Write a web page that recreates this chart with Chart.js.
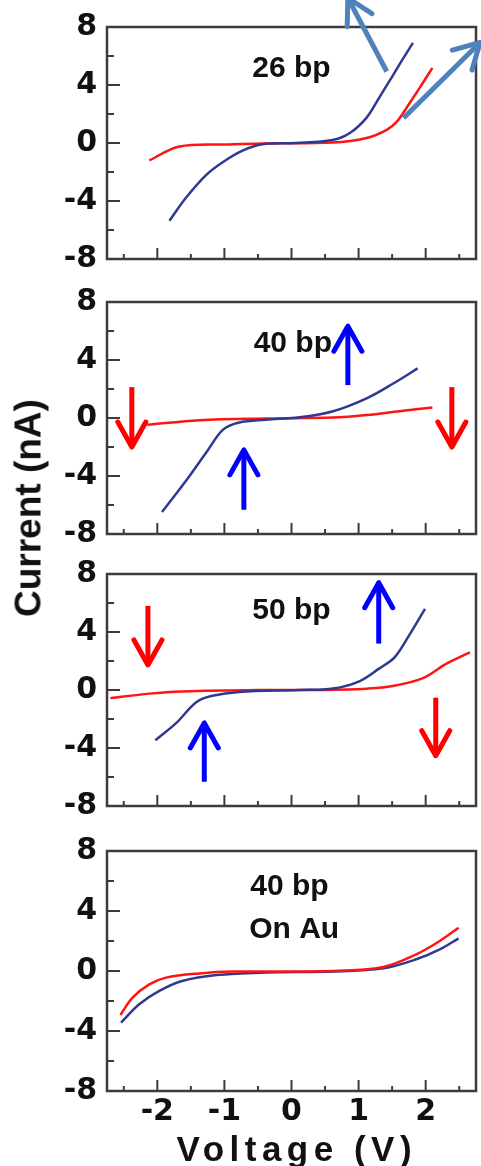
<!DOCTYPE html>
<html>
<head>
<meta charset="utf-8">
<script src="https://cdn.jsdelivr.net/npm/chart.js@4.4.1/dist/chart.umd.min.js"></script>
<style>
body { margin: 0; background: #fff; width: 481px; height: 1166px; position: relative; overflow: hidden; }
.panel { position: absolute; left: 0; }
.xtitle { position: absolute; left: 294px; top: 1131px; transform: translateX(-50%); font: bold 35px "Liberation Sans", Arial, sans-serif; line-height: 35px; letter-spacing: 5.5px; padding-left: 5.5px; white-space: nowrap; color: #111; }
.ytitle { position: absolute; left: 28px; top: 508px; transform: translate(-50%, -50%) rotate(-90deg); font: bold 37px "Liberation Sans", Arial, sans-serif; line-height: 37px; white-space: nowrap; color: #111; }
</style>
</head>
<body>
<div class="panel" style="top:-3px"><canvas id="p26" width="481" height="290"></canvas></div>
<div class="panel" style="top:272px"><canvas id="p40" width="481" height="290"></canvas></div>
<div class="panel" style="top:544px"><canvas id="p50" width="481" height="290"></canvas></div>
<div class="panel" style="top:821px"><canvas id="pAu" width="481" height="315"></canvas></div>
<div class="ytitle">Current (nA)</div>
<div class="xtitle">Voltage (V)</div>
<script>
// I-V curves (voltage in V, current in nA)
const v26Blue = [-1.82, -1.57, -1.27, -1.02, -0.73, -0.43, 0.07, 0.61, 0.87, 1.12, 1.31, 1.51, 1.66, 1.81]
const i26Blue = [-5.36, -3.76, -2.2, -1.31, -0.53, -0.09, 0.0, 0.2, 0.69, 1.75, 3.15, 4.65, 5.8, 6.91]
const v26Red = [-2.12, -1.67, -0.92, -0.43, 0.61, 1.12, 1.42, 1.57, 1.72, 1.91, 2.1]
const i26Red = [-1.2, -0.24, -0.1, -0.03, 0.03, 0.35, 0.91, 1.47, 2.47, 3.8, 5.18]

const v40Blue = [-1.93, -1.57, -1.26, -1.02, -0.78, -0.38, 0.12, 0.62, 1.12, 1.51, 1.88]
const i40Blue = [-6.49, -4.31, -2.31, -0.8, -0.31, -0.12, 0.05, 0.47, 1.36, 2.36, 3.42]
const v40Red = [-2.15, -1.37, -0.38, 0.62, 1.12, 1.61, 2.1]
const i40Red = [-0.47, -0.15, -0.03, 0.03, 0.2, 0.47, 0.73]

const v50Blue = [-2.03, -1.72, -1.42, -1.18, -0.78, 0.12, 0.62, 1.01, 1.31, 1.54, 1.76, 1.99]
const i50Blue = [-3.47, -2.29, -0.84, -0.4, -0.13, 0, 0.1, 0.6, 1.49, 2.27, 3.82, 5.6]
const v50Red = [-2.7, -2.12, -1.63, -0.5, 0.5, 1.12, 1.51, 1.96, 2.31, 2.66]
const i50Red = [-0.56, -0.25, -0.1, 0, 0, 0.09, 0.27, 0.82, 1.82, 2.6]

const vAuRed = [-2.55, -2.37, -2.12, -1.87, -1.37, -0.88, 0.62, 1.37, 1.86, 2.21, 2.49]
const iAuRed = [-2.93, -1.78, -0.89, -0.44, -0.16, -0.04, 0, 0.27, 1.11, 2.0, 2.89]
const vAuBlue = [-2.54, -2.27, -1.97, -1.63, -1.12, -0.38, 0.62, 1.37, 1.86, 2.21, 2.49]
const iAuBlue = [-3.44, -2.22, -1.33, -0.67, -0.27, -0.1, -0.04, 0.18, 0.78, 1.44, 2.18]

const xTickValues = [-2.5, -2, -1.5, -1, -0.5, 0, 0.5, 1, 1.5, 2, 2.5]
const yTickValues = [-8, -6, -4, -2, 0, 2, 4, 6, 8]
const xMin = -2.75, xMax = 2.75
const yMin = -8, yMax = 8

const BLUE = '#2e3a92'
const RED = '#ff1414'
const STEEL = '#4f81bd'

const isWhole = v => Math.abs(v - Math.round(v)) < 1e-6

// frame, inward ticks, arrows and in-panel labels
const decor = {
    id: 'decor',
    afterDraw(chart, args, opts)
    {
        const {ctx, chartArea: a, scales: {x, y}} = chart
        ctx.save()
        ctx.strokeStyle = '#3c3c3c'
        ctx.lineWidth = 2.5
        ctx.strokeRect(a.left, a.top, a.right - a.left, a.bottom - a.top)
        ctx.lineWidth = 2
        ctx.beginPath()
        x.ticks.forEach(t =>
        {
            const px = x.getPixelForValue(t.value)
            const len = isWhole(t.value) ? 11 : 5
            ctx.moveTo(px, a.bottom)
            ctx.lineTo(px, a.bottom - len)
        })
        y.ticks.forEach(t =>
        {
            const py = y.getPixelForValue(t.value)
            const len = t.value % 4 === 0 ? 13 : 7
            ctx.moveTo(a.left, py)
            ctx.lineTo(a.left + len, py)
        })
        ctx.stroke()

        ctx.lineWidth = 5
        ctx.lineJoin = 'round'
        ;(opts.arrows || []).forEach(ar =>
        {
            const x0 = x.getPixelForValue(ar.from[0]), y0 = y.getPixelForValue(ar.from[1])
            const x1 = x.getPixelForValue(ar.to[0]), y1 = y.getPixelForValue(ar.to[1])
            const d = Math.hypot(x1 - x0, y1 - y0)
            const ux = (x1 - x0) / d, uy = (y1 - y0) / d
            const hl = 25, hw = 14
            ctx.strokeStyle = ar.color
            ctx.lineCap = 'butt'
            ctx.beginPath()
            ctx.moveTo(x0, y0)
            ctx.lineTo(x1 - ux * 2, y1 - uy * 2)
            ctx.stroke()
            ctx.lineCap = 'round'
            ctx.beginPath()
            ctx.moveTo(x1 - ux * hl - uy * hw, y1 - uy * hl + ux * hw)
            ctx.lineTo(x1, y1)
            ctx.lineTo(x1 - ux * hl + uy * hw, y1 - uy * hl - ux * hw)
            ctx.stroke()
        })

        ctx.fillStyle = '#111'
        ctx.font = 'bold 30px "Liberation Sans", Arial, sans-serif'
        ctx.textAlign = 'center'
        ctx.textBaseline = 'middle'
        ;(opts.labels || []).forEach(l =>
        {
            ctx.fillText(l.text, x.getPixelForValue(l.at[0]), y.getPixelForValue(l.at[1]))
        })
        ctx.restore()
    }
}

function series(v, i, color)
{
    return {
        data: v.map((vv, k) => ({x: vv, y: i[k]})),
        borderColor: color,
        backgroundColor: color,
        borderWidth: 2.5,
        pointRadius: 0,
        showLine: true,
        tension: 0.35,
    }
}

function makePanel(id, datasets, notes, showX)
{
    const tickFont = {family: '"DejaVu Sans", sans-serif', size: 30, weight: 'bold'}
    return new Chart(document.getElementById(id), {
        type: 'scatter',
        data: {datasets: datasets},
        plugins: [decor],
        options: {
            responsive: false,
            animation: false,
            devicePixelRatio: 1,
            events: [],
            layout: {padding: {top: 30, right: 5, left: 0, bottom: 0}},
            scales: {
                x: {
                    type: 'linear',
                    min: xMin,
                    max: xMax,
                    grid: {display: false, drawTicks: false},
                    border: {display: false},
                    afterBuildTicks: s => { s.ticks = xTickValues.map(v => ({value: v})) },
                    ticks: {
                        display: showX,
                        padding: 3,
                        color: '#111',
                        font: tickFont,
                        maxRotation: 0,
                        autoSkip: false,
                        callback: v => isWhole(v) ? String(Math.round(v)) : '',
                    },
                    afterFit: s => { s.height = showX ? 45 : 20 },
                },
                y: {
                    min: yMin,
                    max: yMax,
                    grid: {display: false, drawTicks: false},
                    border: {display: false},
                    afterBuildTicks: s => { s.ticks = yTickValues.map(v => ({value: v})) },
                    ticks: {
                        padding: 10,
                        color: '#111',
                        font: tickFont,
                        autoSkip: false,
                        callback: v => v % 4 === 0 ? String(v) : '',
                    },
                    afterFit: s => { s.width = 107 },
                },
            },
            plugins: {
                legend: {display: false},
                tooltip: {enabled: false},
                decor: notes,
            },
        },
    })
}

makePanel('p26', [series(v26Blue, i26Blue, BLUE), series(v26Red, i26Red, RED)], {
    labels: [{text: '26 bp', at: [0, 5.13]}],
    arrows: [
        {from: [1.42, 4.93], to: [0.84, 10.0], color: STEEL},
        {from: [1.67, 1.73], to: [2.81, 6.93], color: STEEL},
    ],
}, false)

makePanel('p40', [series(v40Blue, i40Blue, BLUE), series(v40Red, i40Red, RED)], {
    labels: [{text: '40 bp', at: [0.02, 5.13]}],
    arrows: [
        {from: [-2.38, 2.13], to: [-2.38, -2.0], color: '#ff0000'},
        {from: [2.39, 2.13], to: [2.39, -2.0], color: '#ff0000'},
        {from: [0.84, 2.27], to: [0.84, 6.33], color: '#0000ff'},
        {from: [-0.71, -6.33], to: [-0.71, -2.2], color: '#0000ff'},
    ],
}, false)

makePanel('p50', [series(v50Blue, i50Blue, BLUE), series(v50Red, i50Red, RED)], {
    labels: [{text: '50 bp', at: [0, 5.47]}],
    arrows: [
        {from: [-2.14, 5.8], to: [-2.14, 1.73], color: '#ff0000'},
        {from: [2.15, -0.53], to: [2.15, -4.53], color: '#ff0000'},
        {from: [1.3, 3.2], to: [1.3, 7.4], color: '#0000ff'},
        {from: [-1.3, -6.33], to: [-1.3, -2.27], color: '#0000ff'},
    ],
}, false)

makePanel('pAu', [series(vAuRed, iAuRed, RED), series(vAuBlue, iAuBlue, BLUE)], {
    labels: [{text: '40 bp', at: [-0.03, 5.6]}, {text: 'On Au', at: [0.04, 2.73]}],
}, true)
</script>
</body>
</html>
